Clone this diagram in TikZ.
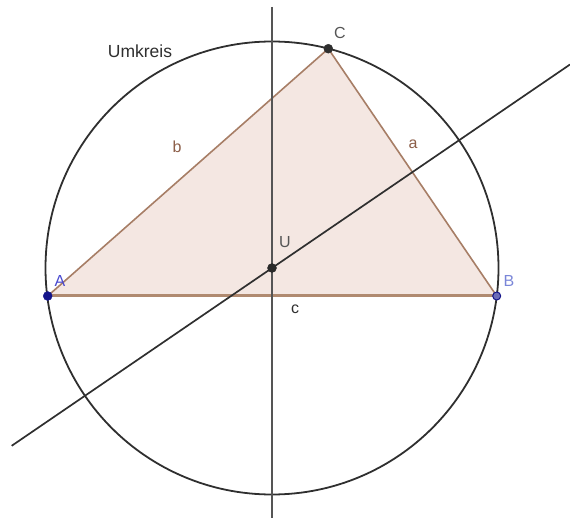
\documentclass[tikz,border=0pt]{standalone}
\usepackage{fontspec}
\setmainfont{Liberation Sans}
\definecolor{trifill}{HTML}{F4E7E2}
\definecolor{triedge}{HTML}{A77E66}
\definecolor{abedge}{HTML}{B08A70}
\definecolor{linegray}{HTML}{555555}
\definecolor{circgray}{HTML}{2F2F2F}
\definecolor{ptblue}{HTML}{14148A}
\definecolor{ptblueB}{HTML}{6C6CB8}
\definecolor{lblblue}{HTML}{4A4AD0}
\definecolor{lblblueB}{HTML}{7A86D8}
\definecolor{lblbrown}{HTML}{8C5E48}
\begin{document}
\begin{tikzpicture}[x=1pt,y=-1pt,
  lbl/.style={font=\fontsize{16}{18}\selectfont, inner sep=0pt},
  dotpt/.style={circle, inner sep=0pt, minimum size=9pt, draw=#1, fill=#1},
]
\useasboundingbox (0,0) rectangle (570,518);
\coordinate (Ucoord) at (272,268);
\coordinate (Acoord) at (47.7,296);
\coordinate (Bcoord) at (496.7,296);
\coordinate (Ccoord) at (328.3,48.7);
\coordinate (vtop) at (272,7);
\coordinate (vbot) at (272,518);
\coordinate (dlow) at (11.7,445.8);
\coordinate (dhigh) at (570,64.5);
% triangle
\fill[trifill] (Acoord) -- (Bcoord) -- (Ccoord) -- cycle;
\draw[triedge, line width=1.6pt] (Acoord) -- (Ccoord) -- (Bcoord);
\draw[abedge, line width=3pt] (Acoord) -- (Bcoord);
% circle and lines
\draw[circgray, line width=1.8pt] (Ucoord) circle[radius=226.5];
\draw[linegray, line width=2pt] (vtop) -- (vbot);
\draw[circgray, line width=1.7pt] (dlow) -- (dhigh);
% points
\node[dotpt=ptblue] (A) at (Acoord) {};
\node[circle, inner sep=0pt, minimum size=8pt, draw=ptblue, line width=1pt, fill=ptblueB] (B) at (Bcoord) {};
\node[dotpt=circgray] (C) at (Ccoord) {};
\node[dotpt=circgray!90!black] (U) at (Ucoord) {};
% labels
\node[lbl, text=lblblue] (lA) at (60,281) {A};
\node[lbl, text=lblblueB] (lB) at (509,281) {B};
\node[lbl, text=linegray] (lC) at (340,33) {C};
\node[lbl, text=linegray] (lU) at (285,242) {U};
\node[lbl, text=lblbrown] (la) at (413,144) {a};
\node[lbl, text=lblbrown] (lb) at (177,147) {b};
\node[lbl, text=circgray] (lc) at (295,309) {c};
\node[lbl, text=circgray, font=\fontsize{17.5}{19}\selectfont] (lum) at (140,51) {Umkreis};
\end{tikzpicture}
\end{document}
